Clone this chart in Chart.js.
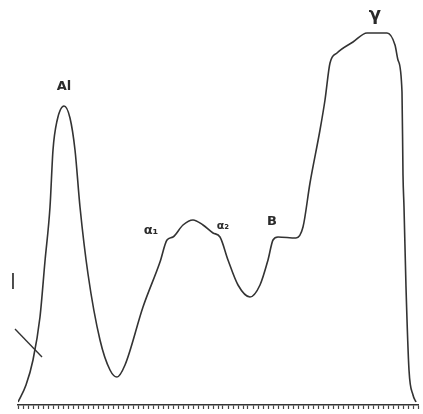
<!DOCTYPE html>
<html>
<head>
<meta charset="utf-8">
<script src="https://cdn.jsdelivr.net/npm/chart.js@4/dist/chart.umd.min.js"></script>
<style>
  html, body { margin: 0; padding: 0; background: #fff; }
  #wrap { width: 423px; height: 414px; }
</style>
</head>
<body>
<div id="wrap"><canvas id="trace"></canvas></div>
<script>
// Densitometer scan: position along strip vs. optical density
const scanPos = [0, 1.6, 3, 4.4, 5.4, 6.4, 7, 7.8, 9.2, 10.4, 11.4, 12.4, 14, 16.4, 18.4, 19.8,
  21.4, 25, 28.4, 29.8, 31, 33, 35, 37, 39, 40.4, 42, 44, 46.4, 48.4, 50, 51, 52, 55.6,
  57, 58.4, 60.4, 61.4, 62.4, 63.8, 67, 69.8, 73.8, 75.4, 76, 76.8, 77, 77.2, 77.6, 78.2, 79, 79.6];
const density = [0.75, 5, 11.25, 22, 36, 49.5, 63.75, 71, 74.75, 71.75, 63.75, 49.5, 32.75, 16.25, 8.75, 7,
  10, 24.5, 35.75, 41.25, 42, 45, 46.25, 45, 43, 42, 36.25, 30, 27, 30, 36.25, 41.25, 42, 41.75,
  44.5, 55.5, 68.75, 76.25, 85.5, 88, 90.75, 93, 93, 90, 86.25, 78.25, 57.5, 49.5, 29.5, 8.75, 2.5, 0.75];

// Fraction labels written on the trace
const fractionNames = ['Al', 'α₁', 'α₂', 'B', 'γ', '|'];
const fractionX = [9.2, 26.6, 41, 50.8, 71.4, -1];
const fractionY = [79.5, 43.5, 44.8, 45.8, 97.3, 31];
const fractionSize = [13, 13, 11, 13, 18, 15];

// pen stroke on the left of the strip
const strokeX = [-0.6, 4.8];
const strokeY = [19, 12];

const labelPlugin = {
  id: 'fractionLabels',
  afterDatasetsDraw(chart) {
    const { ctx, scales: { x, y } } = chart;
    ctx.save();
    ctx.fillStyle = '#2a2a2a';
    ctx.textAlign = 'center';
    ctx.textBaseline = 'middle';
    fractionNames.forEach((name, i) => {
      ctx.font = `bold ${fractionSize[i]}px "DejaVu Sans"`;
      ctx.fillText(name, x.getPixelForValue(fractionX[i]), y.getPixelForValue(fractionY[i]));
    });
    ctx.restore();
  }
};

new Chart(document.getElementById('trace'), {
  type: 'line',
  data: {
    datasets: [
      {
        data: scanPos.map((p, i) => ({ x: p, y: density[i] })),
        borderColor: '#333',
        borderWidth: 1.6,
        pointRadius: 0,
        cubicInterpolationMode: 'monotone',
        fill: false
      },
      {
        data: strokeX.map((p, i) => ({ x: p, y: strokeY[i] })),
        borderColor: '#333',
        borderWidth: 1.4,
        pointRadius: 0,
        clip: false
      }
    ]
  },
  options: {
    responsive: true,
    maintainAspectRatio: false,
    animation: false,
    layout: { padding: { left: 18, right: 5, top: 5, bottom: 5 } },
    plugins: { legend: { display: false }, tooltip: { enabled: false } },
    scales: {
      x: {
        type: 'linear',
        min: 0,
        max: 80,
        ticks: { stepSize: 1, autoSkip: false, display: false },
        grid: { drawOnChartArea: false, tickLength: 4, tickColor: '#444', tickWidth: 1.2 },
        border: { color: '#333', width: 1.5 }
      },
      y: {
        display: false,
        min: 0,
        max: 100
      }
    }
  },
  plugins: [labelPlugin]
});
</script>
</body>
</html>
